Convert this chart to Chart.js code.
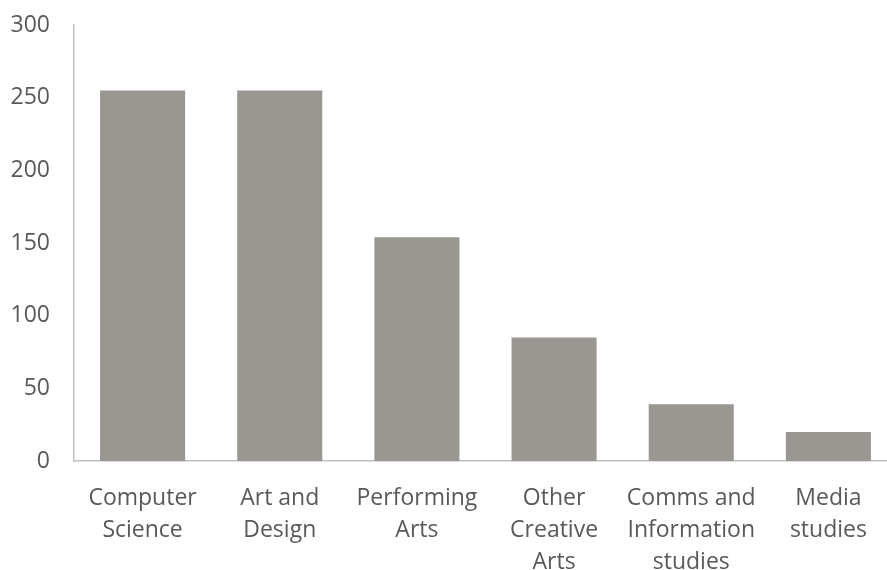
<!DOCTYPE html>
<html>
<head>
<meta charset="utf-8">
<script src="https://cdn.jsdelivr.net/npm/chart.js@4"></script>
<style>
  html, body { margin: 0; padding: 0; background: #fff; overflow: hidden; }
  #wrap { width: 900px; height: 570px; }
</style>
</head>
<body>
<div id="wrap"><canvas id="myChart" width="900" height="570"></canvas></div>
<script>
const categories = [
  ["Computer", "Science"],
  ["Art and", "Design"],
  ["Performing", "Arts"],
  ["Other", "Creative", "Arts"],
  ["Comms and", "Information", "studies"],
  ["Media", "studies"],
];
const values = [255, 255, 154, 85, 39, 20];
const yTicks = [0, 50, 100, 150, 200, 250, 300];

const ctx = document.getElementById("myChart");
const textColor = "#595959";
const axisColor = "#bfbfbf";

new Chart(ctx, {
  type: "bar",
  data: {
    labels: categories,
    datasets: [
      {
        data: values,
        backgroundColor: "#9a9692",
        barPercentage: 0.62,
        categoryPercentage: 1,
      },
    ],
  },
  options: {
    responsive: false,
    animation: false,
    layout: { padding: { top: 25, right: 3, left: 0, bottom: 0 } },
    plugins: { legend: { display: false }, tooltip: { enabled: false } },
    scales: {
      x: {
        grid: { display: false },
        border: { display: true, color: axisColor, width: 1.5 },
        ticks: {
          color: textColor,
          font: { family: "Open Sans", size: 23, lineHeight: 1.4 },
          maxRotation: 0,
          autoSkip: false,
          padding: 13,
        },
        afterFit: (axis) => {
          axis.height = 109;
        },
      },
      y: {
        min: 0,
        max: 300,
        afterBuildTicks: (axis) => {
          axis.ticks = yTicks.map((v) => ({ value: v }));
        },
        grid: { display: false },
        border: { display: true, color: axisColor, width: 1.5 },
        ticks: {
          color: textColor,
          font: { family: "Open Sans", size: 23 },
          padding: 16,
        },
        afterFit: (axis) => {
          axis.width = 74;
          axis.paddingTop = 0;
        },
      },
    },
  },
});
</script>
</body>
</html>
